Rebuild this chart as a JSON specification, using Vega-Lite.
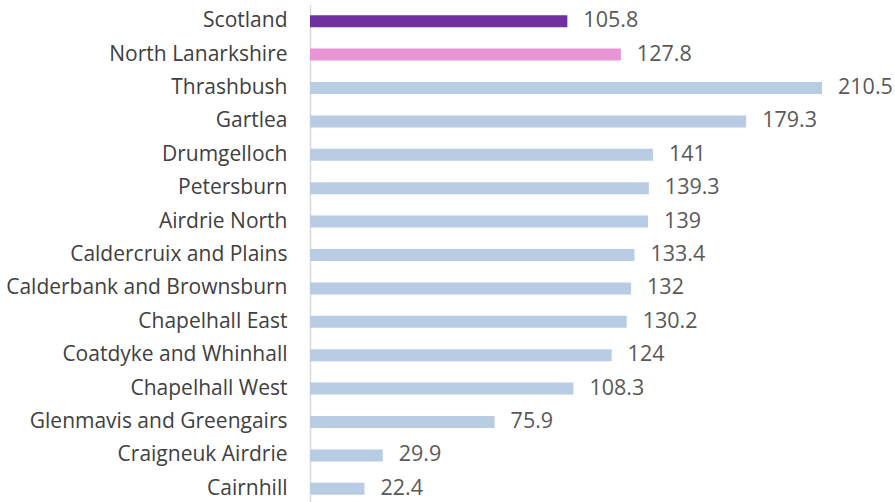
{
  "$schema": "https://vega.github.io/schema/vega-lite/v6.json",
  "autosize": {"type": "none"},
  "padding": {"left": 310, "top": 4.5, "right": 0, "bottom": 0},
  "width": 585,
  "height": 501,
  "background": "white",
  "config": {"view": {"stroke": null}},
  "data": {"values": [
    {"area": "Scotland", "value": 105.8, "group": "Scotland"},
    {"area": "North Lanarkshire", "value": 127.8, "group": "North Lanarkshire"},
    {"area": "Thrashbush", "value": 210.5, "group": "Ward"},
    {"area": "Gartlea", "value": 179.3, "group": "Ward"},
    {"area": "Drumgelloch", "value": 141, "group": "Ward"},
    {"area": "Petersburn", "value": 139.3, "group": "Ward"},
    {"area": "Airdrie North", "value": 139, "group": "Ward"},
    {"area": "Caldercruix and Plains", "value": 133.4, "group": "Ward"},
    {"area": "Calderbank and Brownsburn", "value": 132, "group": "Ward"},
    {"area": "Chapelhall East", "value": 130.2, "group": "Ward"},
    {"area": "Coatdyke and Whinhall", "value": 124, "group": "Ward"},
    {"area": "Chapelhall West", "value": 108.3, "group": "Ward"},
    {"area": "Glenmavis and Greengairs", "value": 75.9, "group": "Ward"},
    {"area": "Craigneuk Airdrie", "value": 29.9, "group": "Ward"},
    {"area": "Cairnhill", "value": 22.4, "group": "Ward"}
  ]},
  "encoding": {
    "y": {
      "field": "area", "type": "nominal", "sort": null,
      "scale": {"paddingInner": 0.64, "paddingOuter": 0.32},
      "axis": {
        "title": null, "ticks": false, "labelPadding": 23,
        "labelFont": "Open Sans", "labelFontSize": 21, "labelColor": "#404040",
        "domainColor": "#d9d9d9", "domainWidth": 1.5, "labelLimit": 400
      }
    },
    "x": {
      "field": "value", "type": "quantitative",
      "scale": {"domain": [0, 240.5], "nice": false},
      "axis": null
    }
  },
  "layer": [
    {
      "mark": {"type": "bar"},
      "encoding": {
        "color": {
          "field": "group", "type": "nominal", "legend": null,
          "scale": {"domain": ["Scotland", "North Lanarkshire", "Ward"], "range": ["#7030a0", "#e994d4", "#b8cce4"]}
        }
      }
    },
    {
      "mark": {"type": "text", "align": "left", "baseline": "middle", "dx": 16, "font": "Open Sans", "fontSize": 21.5, "color": "#595959"},
      "encoding": {"text": {"field": "value", "type": "quantitative"}}
    }
  ]
}
